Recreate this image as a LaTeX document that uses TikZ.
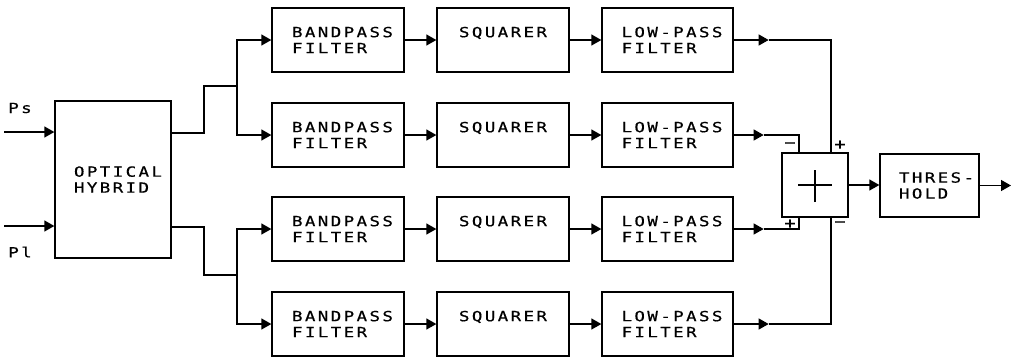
\documentclass[tikz,border=0pt]{standalone}
\usepackage{fontspec}
\newfontfamily\plotfont{DejaVu Sans Mono}[LetterSpace=17,FakeStretch=1.25,FakeBold=0.6]
\newcommand\ind[1]{\hspace*{#1pt}}
\usetikzlibrary{arrows.meta}
\tikzset{
  blk/.style={draw, line width=1.3pt, minimum width=132pt, minimum height=64pt,
    inner sep=0pt, align=left, font=\plotfont\fontsize{14}{16}\selectfont},
  lbl/.style={inner sep=0pt, font=\plotfont\fontsize{14}{16}\selectfont},
  sgn/.style={inner sep=0pt, font=\plotfont\fontsize{15}{15}\selectfont},
  arr/.style={line width=1.3pt, -{Triangle[length=10pt,width=11pt]}},
  ln/.style={line width=1.3pt},
}
\begin{document}
\begin{tikzpicture}[x=1pt,y=-1pt]
\useasboundingbox (0,0) rectangle (1016,359);
% optical hybrid and inputs
\node[blk, minimum width=116pt, minimum height=157pt] (hyb) at (113,179.5) {\ind{10}OPTICAL\\\ind{10}HYBRID};
\node[lbl] (pslab) at (20,108) {Ps};
\node[lbl] (pllab) at (20,252) {Pl};
\coordinate (psin) at (4,132);
\coordinate (plin) at (4,226);
\draw[arr] (psin) -- (psin -| hyb.west);
\draw[arr] (plin) -- (plin -| hyb.west);
% rows
\foreach \i/\y in {1/40,2/135,3/229,4/324} {
  \node[blk] (bpf\i) at (338,\y) {\ind{9}BANDPASS\\\ind{9}FILTER};
  \node[blk] (sq\i) at (503,\y) {SQUARER\\\mbox{}};
  \node[blk, minimum width=131pt] (lpf\i) at (667.5,\y) {\ind{9}LOW-PASS\\\ind{9}FILTER};
  \draw[arr] (bpf\i) -- (sq\i);
  \draw[arr] (sq\i) -- (lpf\i);
}
% splits
\coordinate (ho1) at (171,133);
\coordinate (ho2) at (171,227);
\coordinate (ja) at (204,86);
\coordinate (jb) at (237,86);
\coordinate (jc) at (204,275);
\coordinate (jd) at (237,275);
\draw[ln] (ho1 -| hyb.east) -| (ja) -- (jb);
\draw[ln] (ho2 -| hyb.east) -| (jc) -- (jd);
\draw[arr] (jb) |- (bpf1.west);
\draw[arr] (jb) |- (bpf2.west);
\draw[arr] (jd) |- (bpf3.west);
\draw[arr] (jd) |- (bpf4.west);
% summer
\node[draw, line width=1.3pt, minimum width=66pt, minimum height=64pt, inner sep=0pt] (S) at (815,185) {};
\draw[line width=1.2pt] ([xshift=-17pt]S.center) -- ([xshift=17pt]S.center);
\draw[line width=1.2pt] ([yshift=-17pt]S.center) -- ([yshift=15pt]S.center);
\coordinate (sL) at (799,0);
\coordinate (sR) at (831,0);
\draw[arr] (lpf1.east) -- ++(35,0) coordinate (t1);
\draw[ln] (t1) -| (S.north -| sR);
\draw[arr] (lpf2.east) -- ++(30,0) coordinate (t2);
\draw[ln] (t2) -| (S.north -| sL);
\draw[arr] (lpf3.east) -- ++(30,0) coordinate (t3);
\draw[ln] (t3) -| (S.south -| sL);
\draw[arr] (lpf4.east) -- ++(35,0) coordinate (t4);
\draw[ln] (t4) -| (S.south -| sR);
\node[sgn] (m1) at (790,145) {−};
\node[sgn] (p1) at (840,145) {+};
\node[sgn] (p2) at (790,224) {+};
\node[sgn] (m2) at (840,224) {−};
% threshold
\node[blk, minimum width=99pt, minimum height=63pt] (th) at (929.5,185.5) {\ind{14}THRES-\\\ind{14}HOLD};
\draw[arr] (S.east) -- (th.west |- S.east);
\coordinate (out) at (1011,185.5);
\draw[arr] (th.east) -- (out);
\end{tikzpicture}
\end{document}
